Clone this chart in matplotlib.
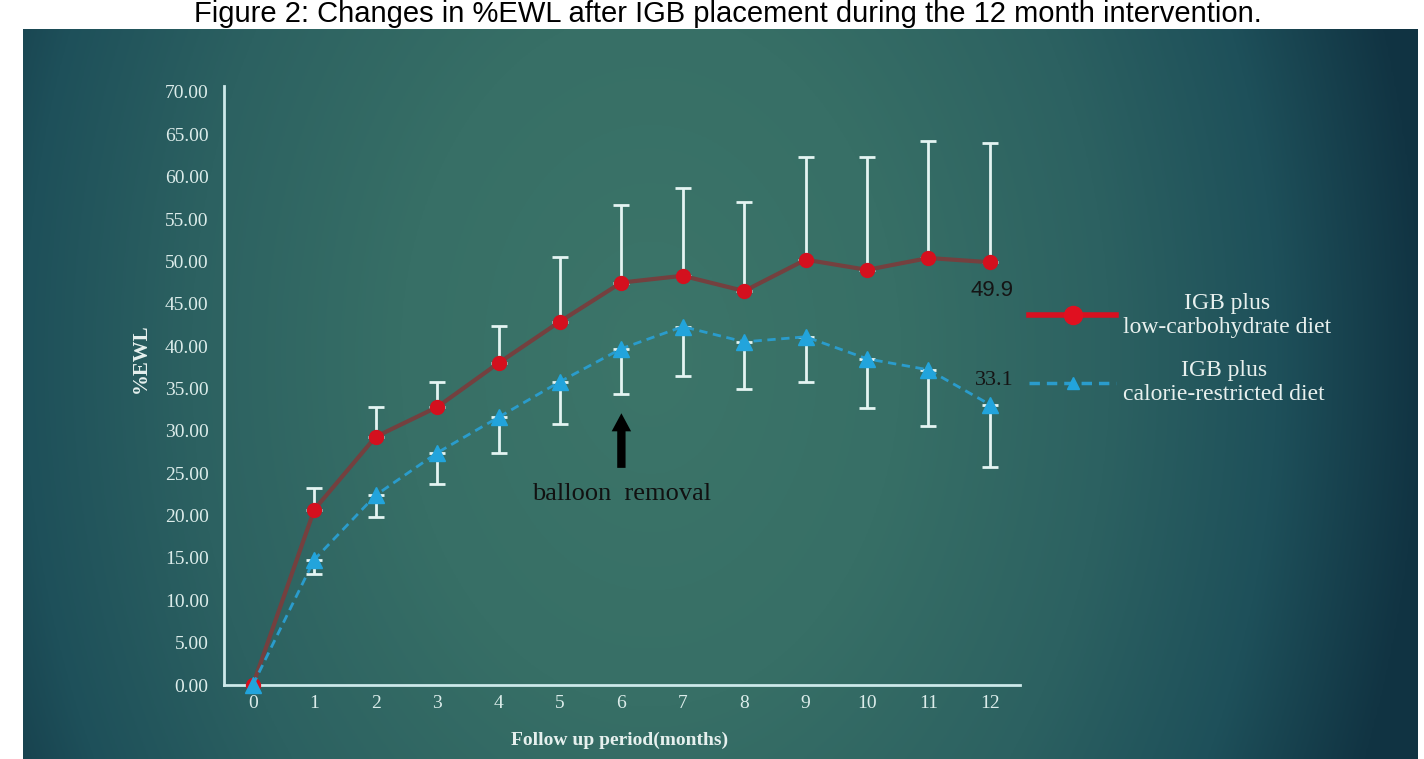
import matplotlib.pyplot as plt
import numpy as np
from matplotlib.colors import to_rgb
from matplotlib.lines import Line2D

plt.rcParams['font.family'] = ['Liberation Serif', 'DejaVu Serif']

# данные (%EWL, среднее и SD)
months = np.arange(13)
low_carb = np.array([0, 20.7, 29.3, 32.8, 38.0, 42.9, 47.5, 48.3, 46.5, 50.2, 49.0, 50.4, 49.9])
low_carb_sd = np.array([0, 2.6, 3.5, 3.0, 4.4, 7.6, 9.1, 10.4, 10.5, 12.1, 13.3, 13.8, 14.1])
cal_restr = np.array([0, 14.8, 22.4, 27.4, 31.6, 35.8, 39.7, 42.3, 40.5, 41.1, 38.5, 37.2, 33.1])
cal_restr_sd = np.array([0, 1.7, 2.6, 3.7, 4.2, 5.0, 5.3, 5.8, 5.6, 5.3, 5.8, 6.6, 7.4])
y_ticks = np.arange(0, 75, 5)
labels = ['IGB plus\nlow-carbohydrate diet', 'IGB plus\ncalorie-restricted diet']
title = 'Figure 2: Changes in %EWL after IGB placement during the 12 month intervention.'

W, H = 1424, 759
fig = plt.figure(figsize=(W / 100, H / 100), dpi=100)
fig.patch.set_facecolor('white')

# фон-градиент
bg = fig.add_axes([23 / W, 0, 1395 / W, 730 / H], zorder=0)
gx, gy = np.meshgrid(np.linspace(0, 1, 500), np.linspace(0, 1, 250))
d = np.sqrt(((gx - 0.45) / 0.6) ** 2 + ((gy - 0.55) / 1.6) ** 2)
stops = [0, 0.3, 0.55, 0.75, 0.92, 1.3]
cols = np.array([to_rgb(c) for c in ['#3c7569', '#376f66', '#2c6161', '#1e505a', '#113443', '#0e2f3f']])
img = np.stack([np.interp(d, stops, cols[:, i]) for i in range(3)], axis=-1)
bg.imshow(img, aspect='auto', extent=[0, 1, 0, 1], origin='lower')
bg.axis('off')

fig.text(0.511, 1 - 22 / H, title, ha='center', va='baseline', fontsize=21,
         family='Liberation Sans', color='black')

ax = fig.add_axes([224 / W, 74 / H, 796 / W, 599 / H], zorder=1)
ax.patch.set_alpha(0)

ax.errorbar(months[1:], low_carb[1:], yerr=[np.zeros(12), low_carb_sd[1:]], fmt='none',
            ecolor='#e4f4f2', elinewidth=2, capsize=6, capthick=2, zorder=2)
ax.errorbar(months[1:], cal_restr[1:], yerr=[cal_restr_sd[1:], np.zeros(12)], fmt='none',
            ecolor='#e4f4f2', elinewidth=2, capsize=6, capthick=2, zorder=2)

ax.plot(months, low_carb, color='#74403f', lw=3, marker='o', ms=10,
        mfc='#d4101e', mec='#d4101e', zorder=3, clip_on=False)
ax.plot(months, cal_restr, color='#2a9ccc', lw=2, ls=(0, (3, 2)), marker='^', ms=11,
        mfc='#22a4dc', mec='#22a4dc', zorder=3, clip_on=False)

ax.annotate('49.9', (12, low_carb[12]), xytext=(1.5, -20), textcoords='offset points',
            ha='center', va='center', fontsize=16, family='Liberation Sans', color='#151515')
ax.annotate('33.1', (12, cal_restr[12]), xytext=(3, 17), textcoords='offset points',
            ha='center', va='center', fontsize=16, color='#151515')

# стрелка "balloon removal"
ax.annotate('', xy=(6, 32.4), xytext=(6, 25.3),
            arrowprops=dict(arrowstyle='simple,head_length=1.3,head_width=1.4,tail_width=0.6',
                            mutation_scale=10, color='black', lw=0))
ax.text(6, 22.6, 'balloon  removal', ha='center', va='center', fontsize=19, color='#111111')

ax.set_xlim(-0.47, 12.49)
ax.set_ylim(0, 70.7)
ax.set_xticks(months)
ax.set_yticks(y_ticks)
ax.set_yticklabels(['%.2f' % v for v in y_ticks])
ax.tick_params(length=0, colors='#dcecea', labelsize=14)
ax.tick_params(axis='x', pad=7)
ax.tick_params(axis='y', pad=11)
for s in ['top', 'right']:
    ax.spines[s].set_visible(False)
for s in ['left', 'bottom']:
    ax.spines[s].set_color('#cde9ea')
    ax.spines[s].set_linewidth(2)

ax.set_ylabel('%EWL', fontsize=15, fontweight='bold', color='#e6f0ee')
ax.yaxis.set_label_coords(-0.092, 0.546)
ax.set_xlabel('Follow up period(months)', fontsize=14, fontweight='bold', color='#e6f0ee')
ax.xaxis.label.set_va('center')
ax.xaxis.set_label_coords(0.497, -0.092)

handles = [Line2D([], [], color='#d81020', lw=4, marker='o', ms=13, mfc='#e01020', mec='#e01020'),
           Line2D([], [], color='#2a9ccc', lw=2.5, ls=(0, (3, 2)), marker='^', ms=9,
                  mfc='#22a4dc', mec='#22a4dc')]
leg = fig.legend(handles, labels, loc='center left', bbox_to_anchor=(1029 / W, 1 - 349 / H),
                 frameon=False, fontsize=17, handlelength=3.7, handletextpad=0.3,
                 labelspacing=0.95, borderpad=0, borderaxespad=0)
for t in leg.get_texts():
    t.set_color('#e8f0ee')
    t.set_multialignment('center')

plt.savefig('out.png', dpi=100)
